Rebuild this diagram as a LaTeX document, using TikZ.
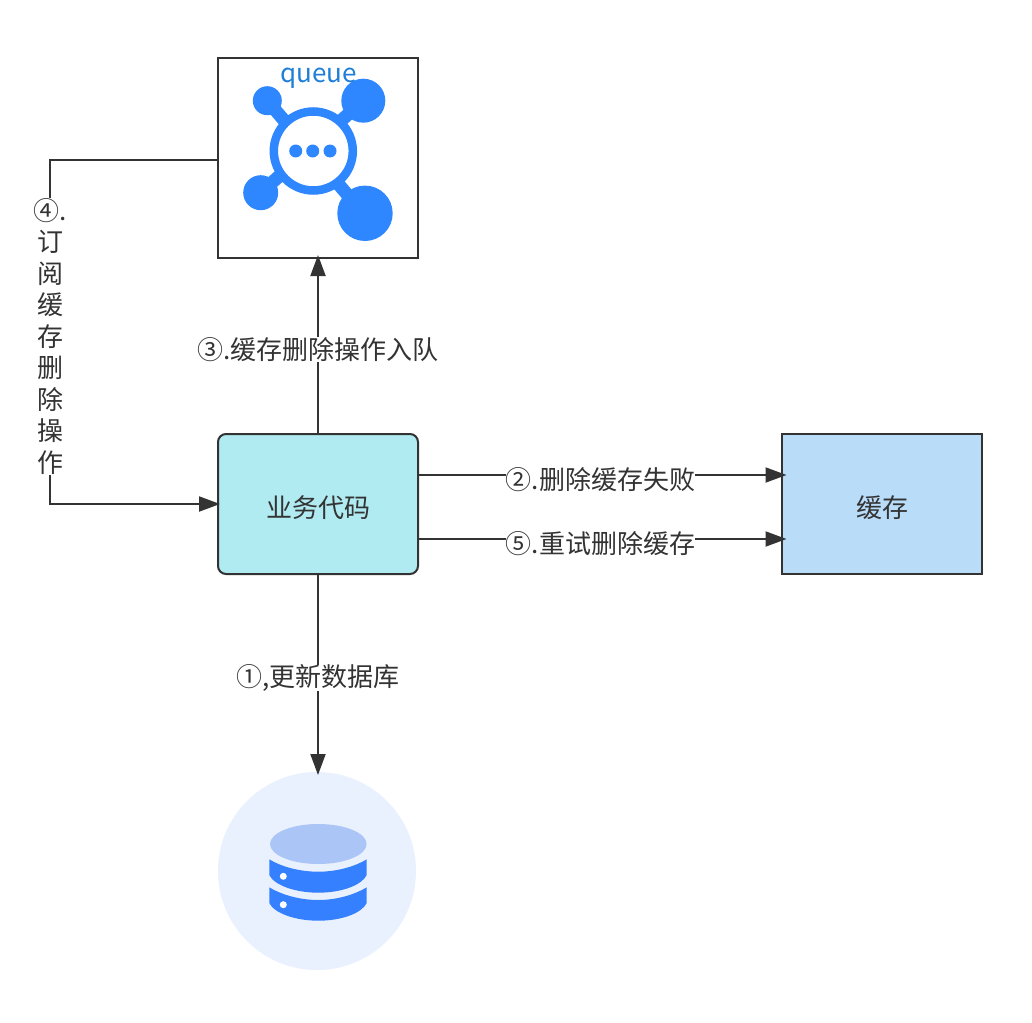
\documentclass[tikz,border=0pt]{standalone}
\usepackage{fontspec}
\setmainfont{Noto Sans CJK SC}
\usetikzlibrary{arrows.meta}
\definecolor{ink}{HTML}{333333}
\definecolor{bizfill}{HTML}{B1EBF2}
\definecolor{cachefill}{HTML}{B9DCF9}
\definecolor{iconblue}{HTML}{2E87FF}
\definecolor{qtext}{HTML}{1F7FD8}
\definecolor{dbbg}{HTML}{E9F1FF}
\definecolor{dbtop}{HTML}{ABC5F7}
\definecolor{dbband}{HTML}{3480FF}
\tikzset{
  x=1pt,y=-1pt,
  boxsty/.style={draw=ink,line width=2pt,minimum width=200pt,minimum height=140pt,inner sep=0pt},
  boxtext/.style={text=ink,inner sep=0pt,font=\fontsize{26}{26}\selectfont},
  link/.style={draw=ink,line width=2pt},
  arrowlink/.style={link,-{Triangle[length=21pt,width=15pt]},shorten >=-3pt},
  lab/.style={fill=white,text=ink,inner sep=0pt,font=\fontsize{26}{31.5}\selectfont,align=center},
  spoke/.style={draw=iconblue,line width=13pt},
}
\begin{document}
\begin{tikzpicture}
\useasboundingbox (0,0) rectangle (1032,1022);
\fill[white] (0,0) rectangle (1032,1022);
% queue box
\node[boxsty,minimum height=200pt] (queue) at (318,158) {};
% queue icon
\draw[spoke] (267.3,100.7) -- (363,213);
\draw[spoke] (363.3,100.7) -- (260.7,192.7);
\fill[iconblue] (267.3,100.7) circle[radius=14.5];
\fill[iconblue] (363.3,100.7) circle[radius=22];
\fill[iconblue] (260.7,192.7) circle[radius=17.5];
\fill[iconblue] (365,213.3) circle[radius=27.7];
\draw[draw=iconblue,fill=white,line width=8.5pt] (313.3,151) circle[radius=39.5];
\fill[iconblue] (295.7,151) circle[radius=6.5];
\fill[iconblue] (312.7,151) circle[radius=6.5];
\fill[iconblue] (330,151) circle[radius=6.5];
\node[boxtext,text=qtext] (qlabel) at (318.5,78) {queue};
% business box and cache
\node[boxsty,fill=bizfill,rounded corners=8pt] (biz) at (318,504) {};
\node[boxtext] (biztext) at (318,508) {业务代码};
\node[boxsty,fill=cachefill] (cache) at (882,504) {};
\node[boxtext] (cachetext) at (882,508) {缓存};
% database
\node[circle,fill=dbbg,minimum size=198pt,inner sep=0pt] (db) at (317,871) {};
\fill[dbtop] (318.3,844) ellipse[x radius=48.3,y radius=20];
\fill[dbband] (269.3,859.3) .. controls (282,867) and (300,871.7) .. (318.3,871.7) .. controls (336,871.7) and (354,867) .. (366.7,859.3) -- (366.7,875) .. controls (362,885) and (342,892.7) .. (318.3,892.7) .. controls (295,892.7) and (274,885) .. (269.3,875) -- cycle;
\fill[dbband] (269.3,887.3) .. controls (282,895) and (300,900) .. (318.3,900) .. controls (336,900) and (354,895) .. (366.7,887.3) -- (366.7,903) .. controls (362,913) and (342,920.7) .. (318.3,920.7) .. controls (295,920.7) and (274,913) .. (269.3,903) -- cycle;
\fill[white] (283.3,876.3) circle[radius=3.5];
\fill[white] (283.3,904.7) circle[radius=3.5];
% connectors
\coordinate (qw) at (218,160);
\coordinate (lt) at (50,160);
\coordinate (lb) at (50,504);
\coordinate (bt) at (318,434);
\coordinate (qb) at (318,258);
\coordinate (br1) at (418,475);
\coordinate (cl1) at (783.5,475);
\coordinate (br2) at (418,539);
\coordinate (cl2) at (783.5,539);
\coordinate (dbt) at (318,772);
\draw[arrowlink] (bt) -- (qb);
\draw[arrowlink] (biz.south) -- (dbt);
\draw[arrowlink] (br1) -- (cl1);
\draw[arrowlink] (br2) -- (cl2);
\draw[arrowlink] (qw) -- (lt) -- (lb) -- (biz.west);
% labels
\node[lab] (l1) at (318,678) {①,更新数据库};
\node[lab] (l2) at (600.5,480) {②.删除缓存失败};
\node[lab] (l3) at (318,349.5) {③.缓存删除操作入队};
\node[lab] (l5) at (600.5,544) {⑤.重试删除缓存};
\node[lab] (l4) at (50,336.5) {④.\\订\\阅\\缓\\存\\删\\除\\操\\作};
\end{tikzpicture}
\end{document}
